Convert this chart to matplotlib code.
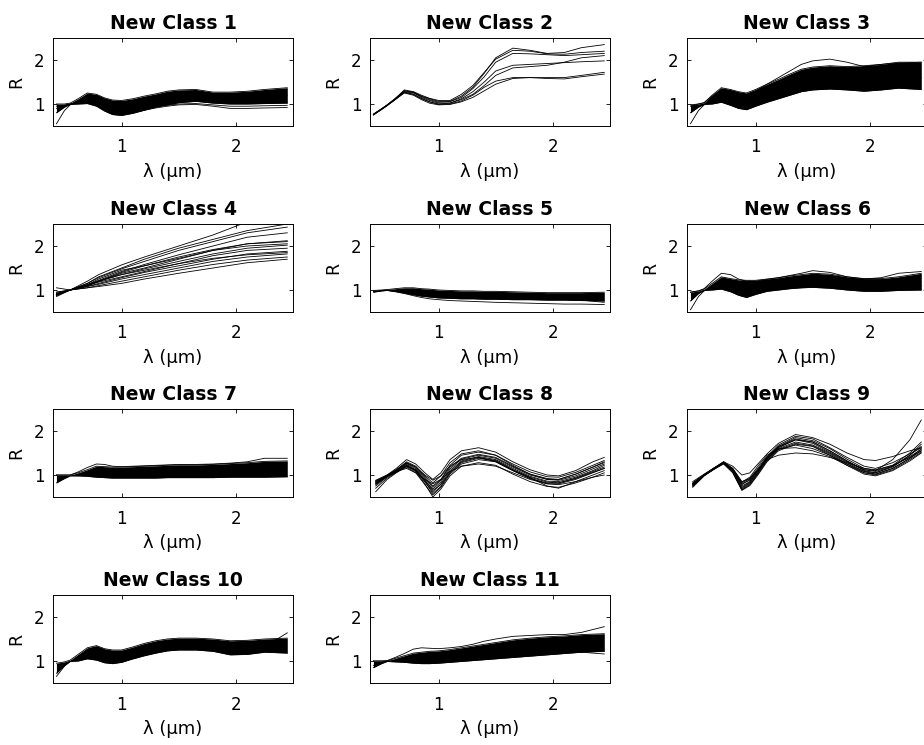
import numpy as np
import matplotlib
matplotlib.use('Agg')
import matplotlib.pyplot as plt

plt.rcParams['font.family'] = ['DejaVu Sans']

# ── wavelength grids [um] ──
WL = [0.43, 0.50, 0.55, 0.62, 0.70, 0.78, 0.85, 0.92, 1.00, 1.10,
      1.20, 1.30, 1.40, 1.50, 1.65, 1.80, 1.95, 2.10, 2.25, 2.45]
WL4 = [0.43, 0.55, 0.70, 0.80, 1.00, 1.20, 1.50, 1.80, 2.10, 2.45]
WL8 = [0.45, 0.55, 0.63, 0.72, 0.80, 0.88, 0.95, 1.02, 1.10, 1.20,
       1.35, 1.50, 1.65, 1.80, 1.95, 2.05, 2.20, 2.35, 2.45]

# ── class 1 (dense band + stragglers) ──
C1_UP = [1.0, 1.0, 1.02, 1.12, 1.25, 1.22, 1.14, 1.09, 1.08, 1.12,
         1.18, 1.23, 1.29, 1.32, 1.33, 1.27, 1.27, 1.29, 1.33, 1.37]
C1_LO = [0.8, 0.93, 0.99, 1.0, 1.01, 0.95, 0.84, 0.76, 0.74, 0.79,
         0.86, 0.93, 0.98, 1.03, 1.06, 1.02, 1.0, 1.0, 1.01, 1.02]
C1_LINES = [
    [0.95, 0.97, 1.0, 1.02, 1.05, 0.97, 0.86, 0.78, 0.75, 0.8, 0.86, 0.91, 0.95, 0.98, 0.99, 0.95, 0.9, 0.9, 0.91, 0.92],
    [0.9, 0.96, 1.0, 1.03, 1.08, 1.0, 0.9, 0.82, 0.79, 0.83, 0.89, 0.94, 0.97, 1.0, 1.01, 0.98, 0.95, 0.95, 0.96, 0.97],
    [0.55, 0.85, 0.98, 1.05, 1.15, 1.1, 1.0, 0.92, 0.9, 0.95, 1.02, 1.08, 1.13, 1.17, 1.2, 1.15, 1.13, 1.15, 1.18, 1.2],
]

# ── class 2 (few spectra) ──
C2_LINES = [
    [0.75, 0.88, 0.97, 1.12, 1.3, 1.27, 1.18, 1.12, 1.06, 1.06, 1.18, 1.38, 1.7, 2.05, 2.27, 2.22, 2.15, 2.17, 2.28, 2.35],
    [0.76, 0.88, 0.97, 1.12, 1.32, 1.28, 1.2, 1.13, 1.08, 1.08, 1.22, 1.42, 1.72, 2.02, 2.22, 2.2, 2.14, 2.13, 2.17, 2.2],
    [0.77, 0.89, 0.98, 1.12, 1.28, 1.25, 1.17, 1.1, 1.04, 1.05, 1.15, 1.35, 1.62, 1.95, 2.15, 2.14, 2.12, 2.1, 2.12, 2.15],
    [0.76, 0.88, 0.97, 1.1, 1.27, 1.22, 1.12, 1.05, 1.0, 1.02, 1.12, 1.28, 1.5, 1.75, 1.88, 1.9, 1.92, 1.94, 1.96, 1.98],
    [0.77, 0.89, 0.98, 1.12, 1.3, 1.26, 1.15, 1.08, 1.02, 1.02, 1.1, 1.22, 1.42, 1.65, 1.82, 1.85, 1.88, 1.95, 2.05, 2.1],
    [0.76, 0.88, 0.97, 1.1, 1.25, 1.2, 1.1, 1.02, 0.98, 0.99, 1.05, 1.15, 1.3, 1.45, 1.58, 1.6, 1.6, 1.6, 1.65, 1.72],
    [0.75, 0.87, 0.96, 1.1, 1.26, 1.22, 1.13, 1.05, 0.99, 1.0, 1.07, 1.2, 1.38, 1.52, 1.6, 1.6, 1.58, 1.57, 1.62, 1.68],
]

# ── class 3 ──
C3_UP = [0.98, 1.0, 1.03, 1.2, 1.37, 1.33, 1.28, 1.25, 1.33, 1.45,
         1.56, 1.68, 1.79, 1.84, 1.87, 1.85, 1.87, 1.9, 1.95, 1.95]
C3_LO = [0.8, 0.93, 0.99, 1.0, 1.04, 0.97, 0.9, 0.87, 0.95, 1.04,
         1.12, 1.2, 1.28, 1.32, 1.34, 1.32, 1.29, 1.32, 1.36, 1.33]
C3_LINES = [
    [0.95, 1.0, 1.03, 1.18, 1.33, 1.3, 1.25, 1.22, 1.3, 1.45, 1.6, 1.75, 1.9, 1.98, 2.02, 1.95, 1.85, 1.9, 1.93, 1.95],
    [0.55, 0.85, 0.98, 1.1, 1.2, 1.15, 1.05, 1.0, 1.08, 1.2, 1.3, 1.4, 1.5, 1.55, 1.58, 1.55, 1.52, 1.55, 1.58, 1.6],
]

# ── class 4 (fanning spectra) ──
C4_LINES = [
    [0.92, 1.0, 1.2, 1.35, 1.57, 1.75, 2.0, 2.25, 2.55, 2.8],
    [0.95, 1.0, 1.15, 1.3, 1.5, 1.7, 1.95, 2.15, 2.35, 2.5],
    [0.9, 1.0, 1.15, 1.28, 1.48, 1.65, 1.9, 2.1, 2.3, 2.43],
    [0.88, 1.0, 1.12, 1.22, 1.42, 1.58, 1.8, 2.0, 2.2, 2.3],
    [1.05, 1.0, 1.1, 1.2, 1.38, 1.5, 1.7, 1.9, 2.05, 2.12],
    [0.9, 1.0, 1.1, 1.2, 1.35, 1.48, 1.65, 1.82, 1.95, 2.02],
    [0.85, 1.0, 1.1, 1.18, 1.3, 1.42, 1.6, 1.78, 1.9, 1.95],
    [0.9, 1.0, 1.08, 1.15, 1.28, 1.4, 1.55, 1.7, 1.82, 1.88],
    [0.95, 1.0, 1.08, 1.13, 1.25, 1.35, 1.5, 1.65, 1.75, 1.82],
    [0.88, 1.0, 1.05, 1.1, 1.2, 1.3, 1.45, 1.58, 1.68, 1.75],
    [0.9, 1.0, 1.05, 1.08, 1.15, 1.25, 1.38, 1.5, 1.62, 1.7],
    [0.92, 1.0, 1.12, 1.25, 1.45, 1.55, 1.72, 1.9, 2.0, 2.05],
    [0.87, 1.0, 1.1, 1.2, 1.4, 1.55, 1.75, 1.92, 2.05, 2.1],
    [0.9, 1.0, 1.12, 1.2, 1.35, 1.45, 1.6, 1.72, 1.8, 1.85],
]

# ── class 5 ──
C5_UP = [0.99, 1.0, 1.01, 1.03, 1.05, 1.05, 1.03, 1.02, 1.0, 0.99,
         0.98, 0.98, 0.97, 0.97, 0.96, 0.95, 0.94, 0.94, 0.94, 0.95]
C5_LO = [0.95, 0.98, 0.99, 0.97, 0.93, 0.89, 0.86, 0.84, 0.82, 0.81,
         0.8, 0.8, 0.79, 0.79, 0.78, 0.78, 0.77, 0.77, 0.76, 0.75]
C5_LINES = [
    [0.96, 0.98, 0.99, 0.96, 0.92, 0.87, 0.83, 0.8, 0.78, 0.76, 0.75, 0.74, 0.73, 0.72, 0.71, 0.7, 0.69, 0.68, 0.68, 0.67],
    [0.97, 0.99, 1.0, 0.99, 0.97, 0.93, 0.9, 0.87, 0.85, 0.83, 0.82, 0.82, 0.82, 0.82, 0.82, 0.81, 0.8, 0.79, 0.77, 0.72],
]

# ── class 6 ──
C6_UP = [0.95, 0.98, 1.02, 1.15, 1.3, 1.26, 1.23, 1.22, 1.22, 1.25,
         1.28, 1.32, 1.35, 1.38, 1.36, 1.3, 1.26, 1.26, 1.3, 1.38]
C6_LO = [0.75, 0.92, 0.99, 1.0, 1.02, 0.96, 0.88, 0.83, 0.9, 0.97,
         1.0, 1.03, 1.05, 1.06, 1.04, 1.0, 0.97, 0.97, 0.99, 1.0]
C6_LINES = [
    [0.95, 0.98, 1.03, 1.2, 1.38, 1.35, 1.25, 1.2, 1.2, 1.24, 1.28, 1.33, 1.38, 1.44, 1.4, 1.3, 1.25, 1.28, 1.38, 1.42],
    [0.55, 0.85, 0.98, 1.05, 1.12, 1.08, 1.0, 0.95, 1.0, 1.05, 1.1, 1.12, 1.14, 1.15, 1.13, 1.1, 1.07, 1.07, 1.08, 1.1],
]

# ── class 7 ──
C7_UP = [1.0, 1.0, 1.0, 1.05, 1.12, 1.2, 1.19, 1.18, 1.18, 1.19,
         1.2, 1.21, 1.22, 1.23, 1.23, 1.24, 1.26, 1.28, 1.31, 1.32]
C7_LO = [0.82, 0.92, 0.98, 0.98, 0.97, 0.95, 0.94, 0.93, 0.93, 0.93,
         0.93, 0.93, 0.94, 0.94, 0.94, 0.94, 0.95, 0.95, 0.95, 0.96]
C7_LINES = [
    [1.0, 1.0, 1.0, 1.07, 1.17, 1.25, 1.24, 1.2, 1.19, 1.2, 1.21, 1.22, 1.23, 1.24, 1.24, 1.25, 1.27, 1.3, 1.38, 1.38],
]

# ── class 8 (absorption features) ──
C8_LINES = [
    [0.88, 1.0, 1.15, 1.35, 1.25, 1.05, 0.9, 1.05, 1.35, 1.55, 1.62, 1.52, 1.3, 1.12, 1.0, 0.98, 1.1, 1.3, 1.4],
    [0.85, 0.99, 1.12, 1.3, 1.2, 0.98, 0.82, 0.98, 1.28, 1.48, 1.55, 1.45, 1.25, 1.07, 0.96, 0.95, 1.06, 1.22, 1.33],
    [0.82, 0.98, 1.1, 1.26, 1.15, 0.92, 0.72, 0.88, 1.18, 1.38, 1.47, 1.4, 1.2, 1.02, 0.92, 0.9, 1.02, 1.18, 1.28],
    [0.8, 0.97, 1.08, 1.22, 1.1, 0.85, 0.62, 0.8, 1.1, 1.32, 1.42, 1.35, 1.15, 0.97, 0.86, 0.85, 0.95, 1.1, 1.22],
    [0.75, 0.96, 1.06, 1.18, 1.05, 0.78, 0.55, 0.72, 1.02, 1.25, 1.35, 1.3, 1.1, 0.92, 0.8, 0.8, 0.9, 1.05, 1.15],
    [0.62, 0.9, 1.05, 1.2, 1.08, 0.8, 0.5, 0.68, 0.98, 1.2, 1.28, 1.22, 1.02, 0.85, 0.74, 0.72, 0.82, 0.95, 1.05],
    [0.85, 0.98, 1.08, 1.15, 1.05, 0.9, 0.8, 0.9, 1.08, 1.2, 1.25, 1.2, 1.05, 0.9, 0.8, 0.78, 0.85, 0.95, 1.0],
    [0.8, 0.97, 1.1, 1.28, 1.18, 0.95, 0.75, 0.9, 1.22, 1.45, 1.52, 1.45, 1.22, 1.02, 0.9, 0.9, 1.02, 1.18, 1.3],
    [0.78, 0.96, 1.08, 1.2, 1.12, 0.88, 0.65, 0.78, 1.05, 1.28, 1.38, 1.32, 1.12, 0.95, 0.84, 0.82, 0.93, 1.08, 1.18],
    [0.83, 0.98, 1.1, 1.24, 1.12, 0.88, 0.68, 0.84, 1.14, 1.36, 1.45, 1.38, 1.18, 1.0, 0.9, 0.88, 0.98, 1.14, 1.25],
    [0.87, 1.0, 1.12, 1.27, 1.18, 1.0, 0.88, 0.98, 1.2, 1.35, 1.4, 1.3, 1.1, 0.92, 0.82, 0.82, 0.92, 1.06, 1.15],
    [0.7, 0.93, 1.06, 1.22, 1.1, 0.85, 0.58, 0.74, 1.06, 1.3, 1.4, 1.33, 1.12, 0.94, 0.75, 0.7, 0.85, 1.0, 1.1],
]

# ── class 9 ──
C9_LINES = [
    [0.85, 1.02, 1.15, 1.3, 1.2, 1.0, 1.05, 1.25, 1.48, 1.72, 1.92, 1.85, 1.7, 1.5, 1.35, 1.33, 1.42, 1.55, 1.62],
    [0.8, 1.0, 1.14, 1.28, 1.15, 0.85, 0.92, 1.15, 1.42, 1.68, 1.88, 1.82, 1.62, 1.4, 1.2, 1.15, 1.28, 1.48, 1.62],
    [0.78, 1.0, 1.13, 1.3, 1.12, 0.75, 0.85, 1.1, 1.4, 1.65, 1.82, 1.75, 1.55, 1.32, 1.12, 1.08, 1.2, 1.42, 1.58],
    [0.75, 0.99, 1.12, 1.26, 1.08, 0.68, 0.8, 1.05, 1.35, 1.6, 1.75, 1.68, 1.5, 1.28, 1.08, 1.02, 1.15, 1.38, 1.55],
    [0.72, 0.98, 1.12, 1.25, 1.05, 0.65, 0.76, 1.0, 1.3, 1.55, 1.7, 1.65, 1.45, 1.22, 1.02, 0.98, 1.1, 1.32, 1.5],
    [0.82, 1.01, 1.15, 1.28, 1.12, 0.78, 0.9, 1.12, 1.38, 1.58, 1.68, 1.6, 1.45, 1.25, 1.08, 1.05, 1.2, 1.45, 1.65],
    [0.8, 1.0, 1.14, 1.27, 1.12, 0.82, 0.92, 1.12, 1.35, 1.45, 1.5, 1.48, 1.4, 1.28, 1.15, 1.12, 1.22, 1.4, 1.55],
    [0.78, 1.0, 1.13, 1.28, 1.1, 0.72, 0.84, 1.08, 1.38, 1.62, 1.8, 1.72, 1.52, 1.3, 1.12, 1.1, 1.35, 1.8, 2.25],
    [0.76, 0.99, 1.13, 1.29, 1.1, 0.7, 0.82, 1.05, 1.36, 1.63, 1.8, 1.75, 1.55, 1.32, 1.1, 1.05, 1.18, 1.45, 1.7],
    [0.79, 1.0, 1.14, 1.27, 1.14, 0.8, 0.88, 1.1, 1.4, 1.65, 1.85, 1.78, 1.6, 1.36, 1.15, 1.1, 1.22, 1.5, 1.75],
    [0.74, 0.98, 1.12, 1.28, 1.06, 0.66, 0.78, 1.02, 1.32, 1.58, 1.72, 1.66, 1.48, 1.25, 1.05, 1.0, 1.12, 1.35, 1.52],
    [0.81, 1.0, 1.15, 1.3, 1.15, 0.84, 0.95, 1.2, 1.45, 1.6, 1.62, 1.55, 1.42, 1.22, 1.05, 1.02, 1.15, 1.38, 1.6],
]

# ── class 10 ──
C10_UP = [0.95, 0.98, 1.02, 1.15, 1.3, 1.35, 1.28, 1.25, 1.25, 1.32,
          1.4, 1.46, 1.5, 1.52, 1.52, 1.5, 1.46, 1.47, 1.5, 1.52]
C10_LO = [0.72, 0.9, 0.99, 1.0, 1.05, 1.02, 0.96, 0.94, 0.97, 1.05,
          1.12, 1.18, 1.23, 1.25, 1.25, 1.22, 1.14, 1.15, 1.2, 1.18]
C10_LINES = [
    [0.65, 0.88, 0.99, 1.05, 1.15, 1.12, 1.05, 1.02, 1.05, 1.12, 1.2, 1.27, 1.32, 1.35, 1.34, 1.3, 1.25, 1.28, 1.32, 1.64],
]

# ── class 11 ──
C11_UP = [1.0, 1.0, 1.0, 1.06, 1.12, 1.18, 1.2, 1.22, 1.23, 1.26,
          1.3, 1.34, 1.38, 1.42, 1.48, 1.52, 1.55, 1.57, 1.6, 1.62]
C11_LO = [0.85, 0.94, 0.99, 0.98, 0.97, 0.95, 0.94, 0.94, 0.95, 0.97,
          0.99, 1.01, 1.03, 1.05, 1.08, 1.11, 1.14, 1.17, 1.2, 1.22]
C11_LINES = [
    [1.0, 1.0, 1.01, 1.08, 1.17, 1.27, 1.3, 1.29, 1.28, 1.3, 1.33, 1.38, 1.45, 1.5, 1.56, 1.58, 1.6, 1.6, 1.65, 1.78],
    [0.9, 0.97, 1.0, 1.0, 1.0, 0.98, 0.97, 0.97, 0.98, 1.0, 1.03, 1.06, 1.09, 1.12, 1.15, 1.18, 1.2, 1.22, 1.2, 1.16],
]

panels = [
    (WL, C1_LINES, C1_LO, C1_UP),
    (WL, C2_LINES, None, None),
    (WL, C3_LINES, C3_LO, C3_UP),
    (WL4, C4_LINES, None, None),
    (WL, C5_LINES, C5_LO, C5_UP),
    (WL, C6_LINES, C6_LO, C6_UP),
    (WL, C7_LINES, C7_LO, C7_UP),
    (WL8, C8_LINES, None, None),
    (WL8, C9_LINES, None, None),
    (WL, C10_LINES, C10_LO, C10_UP),
    (WL, C11_LINES, C11_LO, C11_UP),
]

# ── layout (pixels) ──
W, H = 924, 745
COL_X = [53, 370, 687]
ROW_Y = [38, 224, 409, 595]
AX_W, AX_H = 240, 88

fig = plt.figure(figsize=(W / 100, H / 100), dpi=100)

for i, (wl, lines, lo, up) in enumerate(panels):
    r, c = divmod(i, 3)
    ax = fig.add_axes([COL_X[c] / W, 1 - (ROW_Y[r] + AX_H) / H, AX_W / W, AX_H / H])
    if lo is not None:
        ax.fill_between(wl, lo, up, color='black', linewidth=0)
        ax.plot(wl, lo, color='black', linewidth=0.6)
        ax.plot(wl, up, color='black', linewidth=0.6)
    for y in lines:
        ax.plot(wl, y, color='black', linewidth=0.6)
    ax.set_xlim(0.4, 2.5)
    ax.set_ylim(0.5, 2.5)
    ax.set_xticks([1, 2])
    ax.set_yticks([1, 2])
    ax.tick_params(direction='in', top=True, right=True, length=3, width=0.6,
                   labelsize=12, pad=9)
    ax.tick_params(axis='y', pad=6)
    for s in ax.spines.values():
        s.set_linewidth(0.7)
    ax.set_title(f"New Class {i + 1}", fontsize=13.5, fontweight='bold', pad=6.5)
    ax.set_xlabel("λ (μm)", fontsize=13, labelpad=5)
    ax.set_ylabel("R", fontsize=12.5, labelpad=6)

fig.savefig("out.png", dpi=100)
